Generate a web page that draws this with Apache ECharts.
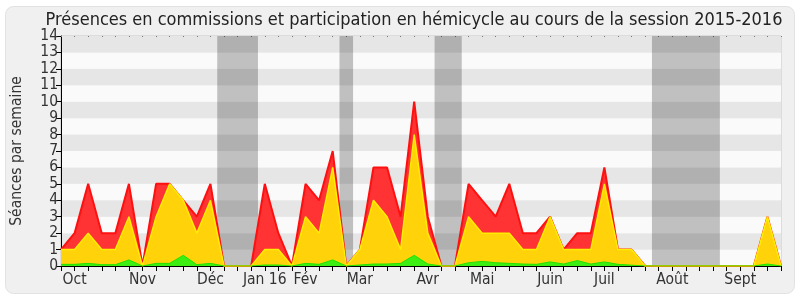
<!DOCTYPE html>
<html><head><meta charset="utf-8">
<script src="https://cdn.jsdelivr.net/npm/echarts@6/dist/echarts.min.js"></script>
<style>html,body{margin:0;padding:0;background:#fff}#c{width:800px;height:300px}</style>
</head><body><div id="c"></div>
<script>
// weekly index 0..53
var totalVals = [1,2,5,2,2,5,0,5,5,4,3,5,0,0,0,5,2,0,5,4,7,0,1,6,6,3,10,3,0,0,5,4,3,5,2,2,3,1,2,2,6,1,1,0,0,0,0,0,0,0,0,0,3,0];
var commVals  = [1,1,2,1,1,3,0,3,5,4,2,4,0,0,0,1,1,0,3,2,6,0,1,4,3,1,8,2,0,0,3,2,2,2,1,1,3,1,1,1,5,1,1,0,0,0,0,0,0,0,0,0,3,0];
var hemiVals  = [0.1,0.1,0.16,0.08,0.08,0.37,0,0.16,0.16,0.65,0.08,0.16,0,0,0,0.06,0.06,0,0.16,0.1,0.37,0,0.06,0.12,0.12,0.16,0.65,0.12,0,0,0.2,0.28,0.2,0.16,0.12,0.1,0.25,0.12,0.33,0.12,0.25,0.1,0.05,0,0,0,0,0,0,0,0,0,0.12,0];
var monthLabels = {1:'Oct',6:'Nov',11:'Déc',15:'Jan 16',18:'Fév',22:'Mar',27:'Avr',31:'Mai',36:'Juin',40:'Juil',45:'Août',50:'Sept'};
var vacations = [[11.5,14.5],[20.5,21.5],[27.5,29.5],[43.5,48.5]];
var yTicks = [0,1,2,3,4,5,6,7,8,9,10,11,12,13,14];

function pairs(a){return a.map(function(v,i){return [i,v];});}
var FONT = '"DejaVu Sans Condensed","DejaVu Sans",sans-serif';
var chart = echarts.init(document.getElementById('c'), null, {renderer:'canvas'});
chart.setOption({
  animation:false,
  backgroundColor:'#fff',
  graphic:[{type:'rect',z:-10,shape:{x:5.5,y:6.5,width:789,height:287,r:8},style:{fill:'#F0F0F0',stroke:'#E2E2E2',lineWidth:1}}],
  title:{text:'Présences en commissions et participation en hémicycle au cours de la session 2015-2016',left:409,top:6,textAlign:'center',
    textStyle:{fontFamily:FONT,fontSize:18,fontWeight:'normal',color:'#222'}},
  grid:{left:61,right:19,top:36,bottom:34,show:true,borderColor:'#C8C8C8',borderWidth:1,backgroundColor:'transparent'},
  xAxis:[{type:'value',min:0,max:53,interval:1,
    axisLine:{show:true,lineStyle:{color:'#000',width:1}},
    axisTick:{show:true,length:5,lineStyle:{color:'#000'}},
    splitLine:{show:false},
    axisLabel:{show:true,margin:6,fontFamily:FONT,fontSize:15.5,color:'#333',showMinLabel:true,showMaxLabel:true,
      formatter:function(v){return monthLabels[v]||'';}}},
    {type:'value',min:0,max:53,interval:1,position:'top',
    axisLine:{show:false},axisTick:{show:true,inside:true,length:1,lineStyle:{color:'#777'}},axisLabel:{show:false},splitLine:{show:false}}],
  yAxis:{type:'value',min:0,max:14,interval:1,name:'Séances par semaine',nameLocation:'middle',nameGap:36,
    nameTextStyle:{fontFamily:FONT,fontSize:15.5,color:'#333'},
    axisLine:{show:true,lineStyle:{color:'#000'}},
    axisTick:{show:true,length:5,lineStyle:{color:'#000'}},
    axisLabel:{fontFamily:FONT,fontSize:15.5,color:'#333',margin:3,
      formatter:function(v){return yTicks.indexOf(v)>=0?String(v):'';}},
    splitLine:{show:false},
    splitArea:{show:true,areaStyle:{color:['#FAFAFA','#E6E6E6']}}},
  series:[
    {type:'line',data:[],z:1,silent:true,
      markArea:{silent:true,itemStyle:{color:'rgba(0,0,0,0.233)'},
        data:vacations.map(function(v){return [{xAxis:v[0]},{xAxis:v[1]}];})}},
    {type:'line',data:pairs(totalVals),z:2,symbol:'none',
      lineStyle:{color:'#FF1010',width:2},areaStyle:{color:'#FF3333',opacity:1}},
    {type:'line',data:pairs(commVals),z:3,symbol:'none',
      lineStyle:{color:'#FFEE00',width:1.5},areaStyle:{color:'#FFD20A',opacity:1}},
    {type:'line',data:pairs(hemiVals),z:4,symbol:'none',
      lineStyle:{color:'#22E000',width:1},areaStyle:{color:'#3DEE12',opacity:1}}
  ]
});
</script></body></html>
